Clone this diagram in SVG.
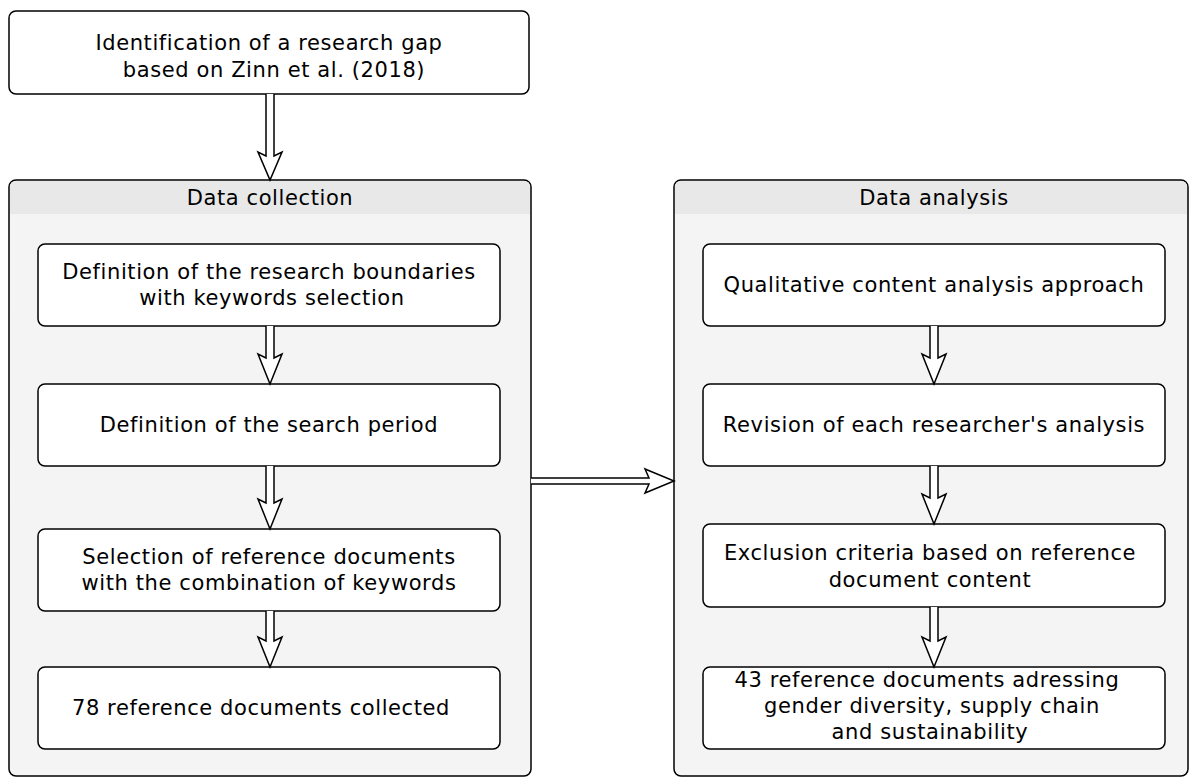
<svg xmlns="http://www.w3.org/2000/svg" width="1190" height="778" viewBox="0 0 1190 778">
<style>
.box{fill:#fff;stroke:#000;stroke-width:1.5}
.cont{fill:#f4f4f4;stroke:#000;stroke-width:1.5}
.hdr{fill:#e8e8e8}
.arr{fill:#fff;stroke:#000;stroke-width:1.5;stroke-linejoin:miter}
text{font-family:"DejaVu Sans",Verdana,sans-serif;font-size:21px;letter-spacing:0.6px;fill:#000;text-anchor:middle;dominant-baseline:central}
</style>
<rect width="1190" height="778" fill="#fff"/>
<g id="top">
<rect class="box" x="9" y="11" width="520" height="83" rx="7"/>
<text x="269" y="43">Identification of a research gap</text>
<text x="274" y="70">based on Zinn et al. (2018)</text>
</g>
<g id="collection">
<rect class="cont" x="9" y="180" width="522" height="596" rx="7"/>
<path class="hdr" d="M10,214 V187 Q10,181 16,181 H524 Q530,181 530,187 V214 Z"/>
<text x="270" y="198">Data collection</text>
</g>
<g id="analysis">
<rect class="cont" x="674" y="180" width="514" height="596" rx="7"/>
<path class="hdr" d="M675,214 V187 Q675,181 681,181 H1181 Q1187,181 1187,187 V214 Z"/>
<text x="934" y="198">Data analysis</text>
</g>
<g id="c1">
<rect class="box" x="38" y="244" width="462" height="82" rx="7"/>
<text x="269" y="272">Definition of the research boundaries</text>
<text x="272" y="298">with keywords selection</text>
</g>
<g id="c2">
<rect class="box" x="38" y="384" width="462" height="82" rx="7"/>
<text x="269" y="425">Definition of the search period</text>
</g>
<g id="c3">
<rect class="box" x="38" y="529" width="462" height="82" rx="7"/>
<text x="269" y="557">Selection of reference documents</text>
<text x="269" y="583">with the combination of keywords</text>
</g>
<g id="c4">
<rect class="box" x="38" y="667" width="462" height="82" rx="7"/>
<text x="261" y="708">78 reference documents collected</text>
</g>
<g id="a1">
<rect class="box" x="703" y="244" width="462" height="82" rx="7"/>
<text x="934" y="285">Qualitative content analysis approach</text>
</g>
<g id="a2">
<rect class="box" x="703" y="384" width="462" height="82" rx="7"/>
<text x="934" y="425">Revision of each researcher's analysis</text>
</g>
<g id="a3">
<rect class="box" x="703" y="524" width="462" height="83" rx="7"/>
<text x="930" y="553">Exclusion criteria based on reference</text>
<text x="930" y="580">document content</text>
</g>
<g id="a4">
<rect class="box" x="703" y="667" width="462" height="82" rx="7"/>
<text x="927" y="680">43 reference documents adressing</text>
<text x="932" y="706">gender diversity, supply chain</text>
<text x="930" y="732">and sustainability</text>
</g>
<g id="connectors">
<path class="arr" d="M266,94 V156 L258,152 L270,180 L282,152 L274,156 V94"/>
<path class="arr" d="M266,326 V358 L258,354 L270,384 L282,354 L274,358 V326"/>
<path class="arr" d="M266,466 V503 L258,499 L270,529 L282,499 L274,503 V466"/>
<path class="arr" d="M266,611 V641 L258,637 L270,667 L282,637 L274,641 V611"/>
<path class="arr" d="M930,326 V358 L922,354 L934,384 L946,354 L938,358 V326"/>
<path class="arr" d="M930,466 V498 L922,494 L934,524 L946,494 L938,498 V466"/>
<path class="arr" d="M930,607 V641 L922,637 L934,667 L946,637 L938,641 V607"/>
<path class="arr" d="M531,478 H649 L645,469 L674,481 L645,493 L649,484 H531"/>
</g>
</svg>
